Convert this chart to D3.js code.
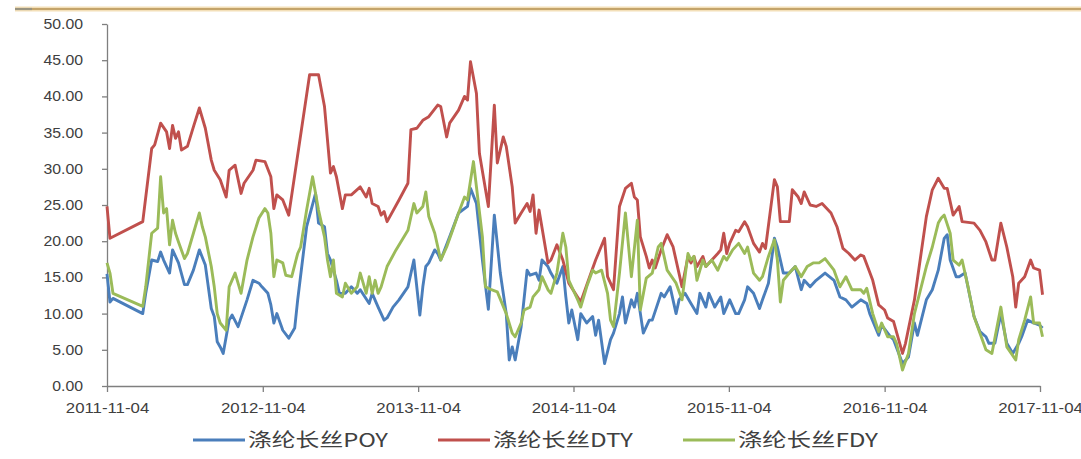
<!DOCTYPE html>
<html><head><meta charset="utf-8">
<script src="https://cdn.jsdelivr.net/npm/d3@7"></script>
<style>
body{margin:0;background:#fff;}
svg{display:block;}
</style></head>
<body><svg id="c" width="1081" height="459"></svg>
<script>
// weekly observations: [weeks since start date, value]
const startDate = "2011-11-04";
const endDate = "2017-11-04";
const seriesNames = ["涤纶长丝POY","涤纶长丝DTY","涤纶长丝FDY"];
const yTicks = [0,5,10,15,20,25,30,35,40,45,50];
const xTickLabels = ["2011-11-04","2012-11-04","2013-11-04","2014-11-04","2015-11-04","2016-11-04","2017-11-04"];

const poy = [[0,15.5],[1,11.6],[2,12.1],[12,10.0],[13,12.8],[15,17.4],[17,17.2],[18,18.5],[19,17.4],[21,15.6],[22,18.8],[24,17.0],[26,14.0],[27,14.0],[29,16.0],[31,18.8],[33,16.7],[35,10.7],[36,9.6],[37,6.1],[38,5.4],[39,4.5],[41,9.1],[42,9.8],[44,8.2],[47,11.9],[49,14.6],[51,14.2],[52,13.7],[54,12.8],[55,11.2],[56,8.7],[57,10.0],[59,7.7],[61,6.6],[63,8.0],[64,11.9],[67,22.0],[70,26.6],[71,22.5],[73,22.0],[74,18.3],[75,17.4],[77,14.6],[78,12.8],[80,12.8],[82,13.7],[84,12.8],[85,13.3],[88,11.4],[89,12.8],[91,10.9],[93,9.1],[94,9.4],[96,10.9],[98,11.9],[101,13.7],[103,17.4],[105,9.8],[106,13.7],[107,16.5],[108,17.0],[110,18.8],[111,18.3],[112,17.4],[115,20.6],[118,23.9],[121,24.8],[122,27.3],[124,25.2],[126,17.4],[128,10.6],[130,23.6],[132,15.6],[134,10.0],[135,3.6],[136,5.4],[137,3.6],[139,8.2],[141,16.0],[142,15.3],[144,15.6],[145,14.6],[146,17.4],[148,16.5],[149,15.6],[151,14.2],[153,16.5],[154,12.3],[155,8.7],[156,10.5],[158,6.4],[159,10.0],[161,8.7],[163,9.6],[164,7.0],[165,9.1],[167,3.1],[169,6.4],[170,7.3],[172,10.0],[173,12.3],[174,8.7],[176,11.9],[177,10.9],[178,12.8],[180,7.3],[182,9.1],[183,9.1],[186,12.8],[187,12.3],[189,13.7],[191,10.0],[192,11.9],[194,12.8],[196,11.4],[198,10.0],[199,12.8],[201,10.9],[202,12.8],[204,10.9],[206,12.3],[207,10.0],[209,11.9],[211,10.0],[212,10.0],[214,11.9],[215,13.7],[217,12.8],[219,10.7],[220,11.9],[222,14.2],[224,20.4],[225,19.2],[227,15.6],[229,15.6],[231,16.5],[233,13.3],[234,14.6],[236,13.7],[238,14.6],[241,15.6],[244,14.6],[246,12.3],[248,11.9],[250,10.9],[253,11.9],[255,11.4],[256,10.0],[259,7.0],[260,8.4],[263,6.8],[264,6.4],[267,3.1],[269,4.0],[271,8.7],[272,7.0],[275,11.9],[277,13.3],[279,16.0],[281,20.4],[282,20.9],[283,17.4],[285,15.1],[286,15.1],[288,15.6],[291,9.6],[293,7.5],[295,6.8],[296,5.9],[298,5.9],[300,10.0],[302,5.9],[304,4.5],[306,5.9],[307,6.8],[309,9.1],[311,8.7],[313,8.4],[314,8.0]];

const dty = [[0,24.8],[1,20.4],[12,22.7],[15,32.8],[16,33.3],[18,36.3],[20,35.1],[21,32.8],[22,36.0],[23,34.2],[24,35.1],[25,32.6],[27,33.1],[29,35.8],[31,38.4],[33,35.6],[35,31.2],[36,29.8],[38,28.5],[40,26.1],[41,29.8],[43,30.5],[45,26.6],[46,28.0],[49,29.8],[50,31.2],[53,31.0],[55,28.9],[56,24.5],[57,26.4],[59,25.7],[61,23.6],[68,43.0],[71,43.0],[73,38.6],[75,29.4],[76,30.3],[77,28.9],[79,24.5],[80,26.4],[82,26.4],[85,27.5],[87,26.1],[88,27.3],[89,25.2],[91,24.8],[92,23.6],[93,24.1],[94,22.7],[98,25.7],[101,28.0],[102,35.4],[104,35.6],[106,36.7],[108,37.2],[111,38.8],[112,38.6],[114,34.4],[115,36.3],[118,38.1],[120,40.0],[121,39.5],[122,44.8],[124,40.4],[125,32.1],[128,24.8],[130,38.8],[131,30.8],[133,34.4],[134,33.1],[136,27.5],[137,22.5],[139,23.9],[141,25.2],[142,24.1],[143,26.4],[144,21.1],[145,24.3],[148,17.0],[149,17.4],[151,19.5],[153,17.4],[155,14.2],[159,11.6],[162,15.1],[164,17.4],[167,20.4],[168,15.1],[170,13.3],[172,24.8],[174,27.3],[176,28.0],[177,26.1],[178,25.7],[179,20.6],[181,17.9],[182,16.3],[183,17.4],[184,16.3],[186,18.8],[188,20.9],[190,19.2],[193,13.7],[195,17.9],[196,17.0],[197,17.9],[198,16.5],[200,17.9],[201,16.5],[203,17.4],[205,18.3],[206,18.8],[207,21.1],[208,18.3],[209,19.7],[211,21.5],[212,21.3],[214,22.7],[215,22.0],[217,19.7],[219,18.5],[220,19.7],[221,19.0],[224,28.5],[225,27.5],[226,22.7],[229,22.7],[230,27.1],[232,26.1],[233,25.2],[234,26.8],[236,25.0],[238,24.8],[240,25.2],[243,23.9],[245,22.0],[247,19.0],[249,18.3],[251,17.4],[253,18.1],[254,17.9],[257,14.6],[259,11.2],[261,10.5],[262,9.4],[264,8.9],[267,4.5],[268,5.9],[271,11.9],[275,23.4],[277,27.1],[279,28.7],[281,27.3],[282,27.3],[284,23.6],[286,24.8],[287,22.7],[291,22.5],[293,21.5],[295,19.9],[297,17.4],[298,17.4],[300,22.5],[302,19.2],[304,15.1],[305,10.9],[306,14.2],[308,15.1],[310,17.4],[311,16.3],[313,16.0],[314,12.6]];

const fdy = [[0,17.0],[1,15.6],[2,12.8],[12,11.0],[13,13.7],[15,21.1],[17,21.8],[18,28.9],[19,23.9],[20,24.5],[21,19.5],[22,22.9],[23,21.1],[24,19.9],[26,17.6],[27,18.3],[29,21.1],[31,23.9],[32,22.0],[33,20.6],[35,16.5],[36,13.7],[37,10.0],[38,8.7],[40,7.7],[41,13.7],[43,15.6],[45,12.8],[47,17.4],[49,20.6],[51,23.2],[53,24.5],[54,23.9],[55,21.1],[56,15.1],[57,17.4],[59,17.0],[60,15.3],[62,15.1],[64,18.3],[65,19.2],[67,24.3],[69,28.9],[71,24.3],[73,20.6],[74,17.4],[75,15.1],[76,17.4],[77,12.8],[79,12.3],[80,14.2],[82,12.8],[84,13.7],[85,15.6],[87,12.8],[88,15.1],[89,12.8],[90,14.6],[91,12.8],[92,13.7],[94,16.5],[97,18.8],[101,21.5],[103,25.2],[104,23.9],[106,24.8],[107,26.8],[108,23.4],[110,21.1],[112,17.4],[114,19.2],[116,21.5],[118,23.9],[120,26.1],[121,25.7],[123,31.0],[124,27.5],[126,20.6],[127,13.7],[129,13.3],[131,13.0],[134,10.0],[136,7.3],[137,6.8],[139,8.7],[140,10.5],[142,10.9],[143,12.3],[145,13.3],[146,15.1],[148,13.3],[149,12.8],[151,15.6],[153,21.1],[154,19.2],[155,14.6],[156,13.7],[158,11.9],[159,10.9],[161,13.7],[163,16.0],[164,15.6],[166,16.0],[168,12.8],[169,9.1],[170,8.2],[172,15.6],[174,23.9],[176,15.1],[178,22.9],[179,10.5],[181,14.9],[183,15.6],[185,19.2],[186,19.7],[188,16.0],[191,14.2],[193,11.9],[195,18.3],[196,17.4],[197,17.9],[198,14.6],[200,17.4],[201,16.5],[203,17.4],[205,16.0],[207,17.9],[208,17.4],[210,18.8],[212,19.7],[214,18.3],[215,19.2],[217,15.6],[219,14.6],[220,15.1],[222,17.9],[224,20.2],[225,17.4],[226,11.6],[227,14.6],[229,15.6],[231,16.5],[233,15.1],[235,16.5],[237,17.0],[239,17.0],[241,17.6],[244,16.0],[246,13.7],[248,15.1],[250,13.3],[253,13.3],[254,12.8],[255,13.5],[257,10.0],[259,7.5],[260,8.7],[262,6.8],[264,6.8],[265,5.9],[267,2.2],[268,3.4],[269,4.5],[271,10.0],[275,16.5],[277,19.2],[279,22.5],[280,23.2],[281,23.6],[283,21.1],[284,17.4],[286,16.7],[287,17.4],[289,13.7],[291,9.6],[293,7.3],[295,5.0],[297,4.5],[300,10.9],[302,5.4],[305,3.6],[306,6.4],[308,9.1],[310,12.3],[311,8.7],[313,8.7],[314,6.8]];

const colors = ["#4a7ebb","#c0504d","#9bbb59"];

const svg = d3.select("#c");
const parse = d3.timeParse("%Y-%m-%d");
const t0 = parse(startDate), t1 = parse(endDate);
const x = d3.scaleTime().domain([t0, t1]).range([107, 1040]);
const y = d3.scaleLinear().domain([0, 50]).range([386, 24]);
const toDate = w => d3.timeDay.offset(t0, Math.round(w * 7));

// top decorative rule
svg.append("line").attr("x1", 15).attr("x2", 1081).attr("y1", 9).attr("y2", 9)
  .attr("stroke", "#f3dfb8").attr("stroke-width", 5);
svg.append("line").attr("x1", 15).attr("x2", 1081).attr("y1", 9).attr("y2", 9)
  .attr("stroke", "#c4a46a").attr("stroke-width", 2.2);
svg.append("line").attr("x1", 15).attr("x2", 32).attr("y1", 9).attr("y2", 9)
  .attr("stroke", "#9a9480").attr("stroke-width", 2.2);

// y axis
const yAxis = d3.axisLeft(y).tickValues(yTicks).tickFormat(d3.format(".2f")).tickSize(5).tickSizeOuter(0);
const gy = svg.append("g").attr("transform", "translate(107,0)").call(yAxis);
gy.select(".domain").attr("stroke", "#7f7f7f").attr("stroke-width", 1.3);
gy.selectAll(".tick line").attr("stroke", "#7f7f7f").attr("stroke-width", 1.3);
gy.selectAll(".tick text").attr("font-family", "Liberation Sans, Arial, sans-serif")
  .attr("font-size", 14).attr("fill", "#404040").attr("x", -24)
  .each(function(){ const L = this.getComputedTextLength(); d3.select(this).attr("textLength", L*1.13).attr("lengthAdjust","spacingAndGlyphs"); });

// x axis
const xTickDates = xTickLabels.map(parse);
const xAxis = d3.axisBottom(x).tickValues(xTickDates).tickFormat(d3.timeFormat("%Y-%m-%d")).tickSize(6).tickSizeOuter(0);
const gx = svg.append("g").attr("transform", "translate(0,386)").call(xAxis);
gx.select(".domain").attr("stroke", "#7f7f7f").attr("stroke-width", 1.3);
gx.selectAll(".tick line").attr("stroke", "#7f7f7f").attr("stroke-width", 1.3);
gx.selectAll(".tick text").attr("font-family", "Liberation Sans, Arial, sans-serif")
  .attr("font-size", 14).attr("fill", "#404040").attr("y", 17)
  .each(function(){ const L = this.getComputedTextLength(); d3.select(this).attr("textLength", L*1.2).attr("lengthAdjust","spacingAndGlyphs"); });

// lines
const line = d3.line().x(d => x(toDate(d[0]))).y(d => y(d[1]));
[poy, dty, fdy].forEach((s, i) => {
  svg.append("path").datum(s).attr("d", line).attr("fill", "none")
    .attr("stroke", colors[i]).attr("stroke-width", 2.9).attr("stroke-linejoin", "round");
});

// legend
const legendX = [193, 438, 683];
seriesNames.forEach((n, i) => {
  const g = svg.append("g").attr("transform", `translate(${legendX[i]},440)`);
  g.append("line").attr("x1", 0).attr("x2", 52).attr("y1", 0).attr("y2", 0)
    .attr("stroke", colors[i]).attr("stroke-width", 3);
  g.append("text").attr("x", 55).attr("y", 7).text(n)
    .attr("font-family", "Noto Sans CJK SC, sans-serif").attr("font-size", 19).attr("fill", "#404040")
    .attr("textLength", 140).attr("lengthAdjust", "spacingAndGlyphs");
});
</script></body></html>
